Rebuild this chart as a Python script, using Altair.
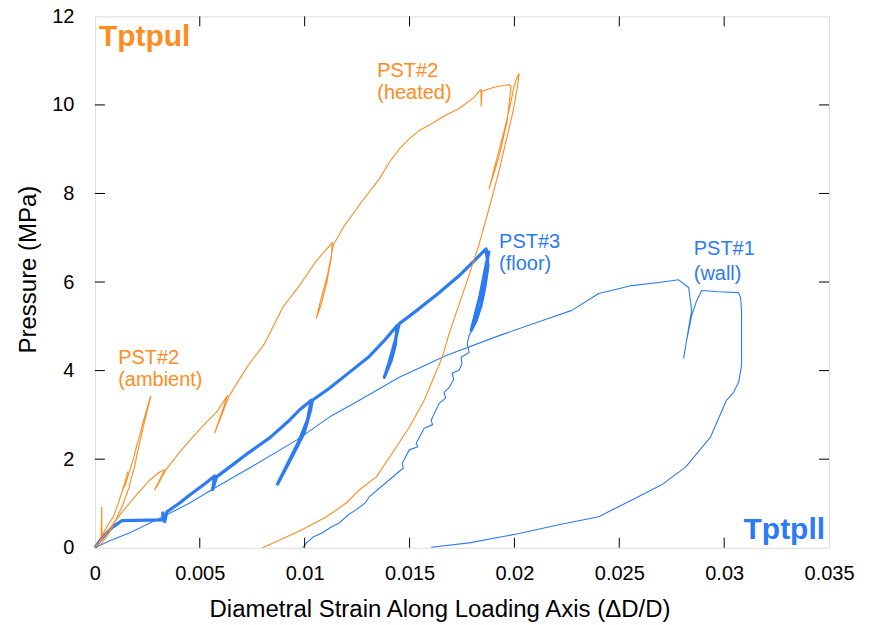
import altair as alt
import pandas as pd

ORANGE = "#FF8C22"
BLUE = "#2D7BF4"
FONT = "Liberation Sans"

x_ticks = [0, 0.005, 0.01, 0.015, 0.02, 0.025, 0.03, 0.035]
y_ticks = [0, 2, 4, 6, 8, 10, 12]
x_inner = [0.005, 0.01, 0.015, 0.02, 0.025, 0.03]
y_inner = [2, 4, 6, 8, 10]

# PST#2 (ambient)
amb_x = [0, 0.00029, 0.00033, 0.00033, 0.00062, 0.00086, 0.00109, 0.00133, 0.00157, 0.00133,
         0.00147, 0.00167, 0.00186, 0.0020, 0.00214, 0.00228, 0.00247, 0.00262, 0.00266, 0.00257,
         0.00238, 0.00219, 0.0020, 0.00186, 0.00181, 0.00162, 0.00133, 0.0010, 0.00062, 0.00024]
amb_y = [0, 0.16, 0.92, 0.27, 0.52, 0.68, 0.97, 1.31, 1.71, 1.31,
         1.44, 1.76, 2.05, 2.32, 2.54, 2.81, 3.11, 3.38, 3.42, 3.24,
         2.88, 2.48, 2.09, 1.76, 1.71, 1.35, 0.97, 0.63, 0.29, 0.05]

# PST#2 (heated)
hot_x = [0, 0.00048, 0.00119, 0.0019, 0.00262, 0.00309, 0.00333, 0.00285, 0.0030, 0.00338,
         0.00404, 0.00466, 0.00523, 0.0058, 0.00633, 0.00571, 0.00595, 0.00637, 0.0068, 0.00737,
         0.00809, 0.00896, 0.00975, 0.01056, 0.01132, 0.01127, 0.01104, 0.0108, 0.01056, 0.0107,
         0.01108, 0.01137, 0.01189, 0.01275, 0.01356, 0.01403, 0.01451, 0.01499, 0.01546, 0.01608,
         0.01670, 0.01736, 0.01808,
         0.01832, 0.01841, 0.01841, 0.01846, 0.01903, 0.01974, 0.01984, 0.01965, 0.01927, 0.01879,
         0.01913, 0.01951, 0.01984, 0.01998, 0.02013, 0.02022, 0.02017, 0.01994, 0.0196, 0.01927,
         0.01889, 0.01832, 0.0177, 0.01689, 0.01656, 0.0157, 0.01499, 0.01418, 0.01342, 0.01261,
         0.01199, 0.01104, 0.0099, 0.00866, 0.00799]
hot_y = [0, 0.29, 0.74, 1.15, 1.53, 1.71, 1.76, 1.31, 1.42, 1.76,
         2.16, 2.50, 2.79, 3.06, 3.44, 2.59, 2.88, 3.40, 3.74, 4.16,
         4.61, 5.43, 5.92, 6.48, 6.89, 6.55, 5.96, 5.51, 5.18, 5.47,
         6.14, 6.84, 7.27, 7.83, 8.33, 8.70, 9.00, 9.24, 9.42, 9.58,
         9.76, 9.92, 10.17,
         10.31, 10.35, 9.97, 10.31, 10.40, 10.46, 10.42, 9.63, 8.84, 8.10,
         8.73, 9.41, 10.08, 10.42, 10.62, 10.71, 10.49, 9.86, 9.18, 8.51,
         7.83, 6.86, 5.96, 4.84, 4.30, 3.33, 2.72, 2.14, 1.60, 1.31,
         1.01, 0.70, 0.41, 0.14, 0]

# PST#3 (floor) loading / reloading
flo_x = [0, 0.00024, 0.00057, 0.00086, 0.00128, 0.00324, 0.00324, 0.00333, 0.00343, 0.00404,
         0.00452, 0.00523, 0.00571, 0.00561, 0.0058, 0.00642, 0.00737, 0.00833, 0.00928, 0.00975,
         0.01032, 0.01013, 0.00975, 0.00928, 0.00871, 0.00937, 0.00999, 0.01028, 0.01037, 0.01118,
         0.01213, 0.01308, 0.0138, 0.01441, 0.01432, 0.01413, 0.0138, 0.01403, 0.01432, 0.01451,
         0.01546, 0.01641, 0.01736, 0.01808, 0.01865, 0.01874, 0.0186, 0.01841, 0.01817, 0.01794,
         0.01812, 0.01836, 0.01855, 0.01874, 0.01879]
flo_y = [0, 0.16, 0.34, 0.47, 0.61, 0.63, 0.79, 0.59, 0.81, 1.01,
         1.19, 1.44, 1.62, 1.31, 1.60, 1.82, 2.16, 2.48, 2.88, 3.11,
         3.33, 2.88, 2.43, 1.98, 1.44, 2.03, 2.61, 3.11, 3.33, 3.60,
         3.96, 4.32, 4.68, 5.02, 4.57, 4.23, 3.85, 4.19, 4.68, 5.06,
         5.40, 5.76, 6.14, 6.48, 6.75, 6.37, 5.92, 5.47, 5.13, 4.91,
         5.24, 5.69, 6.14, 6.59, 6.71]

# PST#3 (floor) final unloading
fun_x = [0.01879, 0.01874, 0.01855, 0.01822, 0.01784, 0.01775, 0.01784, 0.01746, 0.01750, 0.01736,
         0.01703, 0.01710, 0.01689, 0.01665, 0.01672, 0.01641, 0.01603, 0.01610, 0.0157, 0.01532,
         0.01540, 0.01499, 0.01465, 0.01470, 0.01403, 0.01360, 0.01308, 0.01290, 0.01246, 0.01210,
         0.01166, 0.01130, 0.01085, 0.01040, 0.01009, 0.0099]
fun_y = [6.71, 6.26, 5.69, 5.13, 4.79, 4.61, 4.41, 4.30, 4.15, 4.01,
         3.94, 3.80, 3.62, 3.51, 3.38, 3.26, 2.88, 2.78, 2.70, 2.36,
         2.28, 2.21, 1.91, 1.80, 1.53, 1.36, 1.15, 1.02, 0.86, 0.75,
         0.56, 0.48, 0.34, 0.24, 0.11, 0]

# PST#1 (wall)
wal_x = [0, 0.00071, 0.00167, 0.00324, 0.00452, 0.00571, 0.00737, 0.00961, 0.01118, 0.01261,
         0.01451, 0.01675, 0.01927, 0.02165, 0.02274, 0.02402, 0.0256, 0.02688, 0.02783, 0.02831,
         0.02845, 0.02831, 0.02807, 0.02821, 0.02845, 0.02869, 0.02893, 0.02973, 0.03069, 0.03078,
         0.03083, 0.03083, 0.03083, 0.03069, 0.03045, 0.03011, 0.02935, 0.02816, 0.02702, 0.0256,
         0.02402, 0.02212, 0.02022, 0.01784, 0.01603]
wal_y = [0, 0.16, 0.34, 0.70, 1.01, 1.35, 1.80, 2.43, 2.95, 3.33,
         3.85, 4.34, 4.79, 5.18, 5.36, 5.74, 5.92, 5.99, 6.05, 5.87,
         5.36, 4.97, 4.28, 4.68, 5.24, 5.58, 5.81, 5.78, 5.76, 5.65,
         5.36, 4.68, 4.12, 3.74, 3.51, 3.33, 2.50, 1.82, 1.42, 1.08,
         0.70, 0.52, 0.32, 0.11, 0.01]

orange_text = ["PST#2", "(heated)", "PST#2", "(ambient)"]
orange_tx = [0.01346, 0.01346, 0.00111, 0.00111]
orange_ty = [10.62, 10.14, 4.14, 3.65]
blue_text = ["PST#3", "(floor)", "PST#1", "(wall)"]
blue_tx = [0.01927, 0.01927, 0.02855, 0.02855]
blue_ty = [6.76, 6.28, 6.62, 6.05]


def frame(xs, ys):
    return pd.DataFrame({"x": xs, "y": ys, "i": list(range(len(xs)))})


W, H = 735, 532
xsc = alt.Scale(domain=[0, 0.035], nice=False, zero=False)
ysc = alt.Scale(domain=[0, 12], nice=False, zero=False)

x_axis = alt.Axis(values=x_ticks, format="~g", ticks=False, domain=False, grid=False,
                  labelFontSize=20, labelPadding=16, labelFont=FONT, labelColor="black",
                  labelFlush=False, labelOverlap=False,
                  title="Diametral Strain Along Loading Axis (ΔD/D)", titleFont=FONT,
                  titleFontSize=24, titleFontWeight="normal", titleColor="black",
                  titleX=345, titleY=69, titleAlign="center", titleBaseline="alphabetic")
y_axis = alt.Axis(values=y_ticks, format="d", ticks=False, domain=False, grid=False,
                  labelFontSize=20, labelPadding=21, labelFont=FONT, labelColor="black",
                  labelFlush=False, labelOverlap=False,
                  title="Pressure (MPa)", titleFont=FONT, titleFontSize=24,
                  titleFontWeight="normal", titleColor="black", titleAngle=270,
                  titleX=-59, titleY=253, titleAlign="center", titleBaseline="alphabetic")


def line(df, color, width):
    return alt.Chart(df).mark_line(color=color, strokeWidth=width, strokeJoin="round").encode(
        x=alt.X("x:Q", scale=xsc, axis=x_axis),
        y=alt.Y("y:Q", scale=ysc, axis=y_axis),
        order=alt.Order("i:Q"),
    )


layers = [
    line(frame(wal_x, wal_y), BLUE, 1.1),
    line(frame(fun_x, fun_y), BLUE, 1.1),
    line(frame(flo_x, flo_y), BLUE, 3.2),
    line(frame(amb_x, amb_y), ORANGE, 1.1),
    line(frame(hot_x, hot_y), ORANGE, 1.1),
]

xt = pd.DataFrame({"x": x_inner})
yt = pd.DataFrame({"y": y_inner})
tick_bottom = alt.Chart(xt).mark_rule(color="black", strokeWidth=1).encode(
    x=alt.X("x:Q", scale=xsc, axis=x_axis), y=alt.value(H), y2=alt.value(H - 10))
tick_top = alt.Chart(xt).mark_rule(color="black", strokeWidth=1).encode(
    x=alt.X("x:Q", scale=xsc, axis=x_axis), y=alt.value(0), y2=alt.value(10))
tick_left = alt.Chart(yt).mark_rule(color="black", strokeWidth=1).encode(
    y=alt.Y("y:Q", scale=ysc, axis=y_axis), x=alt.value(0), x2=alt.value(10))
tick_right = alt.Chart(yt).mark_rule(color="black", strokeWidth=1).encode(
    y=alt.Y("y:Q", scale=ysc, axis=y_axis), x=alt.value(W), x2=alt.value(W - 10))

olab = pd.DataFrame({"x": orange_tx, "y": orange_ty, "t": orange_text})
blab = pd.DataFrame({"x": blue_tx, "y": blue_ty, "t": blue_text})
otext = alt.Chart(olab).mark_text(align="left", baseline="alphabetic", font=FONT,
                                  fontSize=20, color=ORANGE).encode(
    x=alt.X("x:Q", scale=xsc, axis=x_axis), y=alt.Y("y:Q", scale=ysc, axis=y_axis), text="t:N")
btext = alt.Chart(blab).mark_text(align="left", baseline="alphabetic", font=FONT,
                                  fontSize=20, color=BLUE).encode(
    x=alt.X("x:Q", scale=xsc, axis=x_axis), y=alt.Y("y:Q", scale=ysc, axis=y_axis), text="t:N")

unit_o = pd.DataFrame({"x": [0.00019], "y": [11.33], "t": ["Tptpul"]})
unit_b = pd.DataFrame({"x": [0.03481], "y": [0.196], "t": ["Tptpll"]})
uo = alt.Chart(unit_o).mark_text(align="left", baseline="alphabetic", font=FONT, fontSize=30,
                                 fontWeight="bold", color=ORANGE).encode(
    x=alt.X("x:Q", scale=xsc, axis=x_axis), y=alt.Y("y:Q", scale=ysc, axis=y_axis), text="t:N")
ub = alt.Chart(unit_b).mark_text(align="right", baseline="alphabetic", font=FONT, fontSize=30,
                                 fontWeight="bold", color=BLUE).encode(
    x=alt.X("x:Q", scale=xsc, axis=x_axis), y=alt.Y("y:Q", scale=ysc, axis=y_axis), text="t:N")

chart = alt.layer(*layers, tick_bottom, tick_top, tick_left, tick_right,
                  otext, btext, uo, ub).properties(
    width=W, height=H,
    autosize=alt.AutoSizeParams(type="none"),
    padding={"left": 87, "top": 8, "right": 32, "bottom": 76},
).configure_view(stroke="black", strokeWidth=1.5).configure(background="white")

chart.save("out.html", embed_options={"renderer": "svg", "actions": False})
